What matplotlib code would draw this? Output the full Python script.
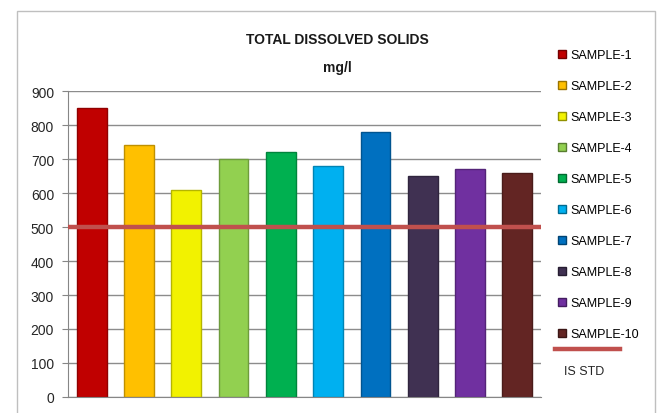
import matplotlib

matplotlib.use("Agg")
import matplotlib.pyplot as plt
from matplotlib.colors import to_rgb
from matplotlib.lines import Line2D
from matplotlib.patches import Rectangle

plt.rcParams["font.family"] = ["Liberation Sans Narrow", "Liberation Sans", "DejaVu Sans"]

# data
samples = [f"SAMPLE-{i}" for i in range(1, 11)]
tds_values = [850, 740, 610, 700, 720, 680, 780, 650, 670, 660]
is_std = 500
y_ticks = [0, 100, 200, 300, 400, 500, 600, 700, 800, 900]

bar_colors = ["#c00000", "#ffc000", "#f2f200", "#92d050", "#00b050",
              "#00b0f0", "#0070c0", "#403152", "#7030a0", "#632523"]


def darker(c, f=0.75):
    r, g, b = to_rgb(c)
    return (r * f, g * f, b * f)


fig = plt.figure(figsize=(6.61, 4.14), dpi=100)
fig.patches.append(Rectangle((17 / 661, -0.01), (655 - 17) / 661, (414 - 12) / 414 + 0.01,
                             transform=fig.transFigure, facecolor="white",
                             edgecolor="#bfbfbf", linewidth=1.0, zorder=-5))

ax = fig.add_axes([68 / 661, 16 / 414, 473 / 661, 306 / 414], zorder=2)
ax.patch.set_alpha(0)
x = range(len(samples))
bars = ax.bar(x, tds_values, width=0.63, color=bar_colors,
              edgecolor=[darker(c) for c in bar_colors], linewidth=1.0, zorder=2)
ax.axhline(is_std, color="#c0504d", linewidth=3.2, zorder=3)

ax.set_xlim(-0.5, len(samples) - 0.5)
ax.set_ylim(0, 900)
ax.set_yticks(y_ticks)
ax.set_xticks([])
ax.tick_params(axis="y", labelsize=10, length=4, color="#868686", pad=6,
               labelcolor="#262626")
ax.yaxis.grid(True, color="#8c8c8c", linewidth=1.0, zorder=1)
ax.set_axisbelow(True)
for side in ("top", "right"):
    ax.spines[side].set_visible(False)
for side in ("left", "bottom"):
    ax.spines[side].set_color("#868686")

fig.text(337 / 661, 1 - 40 / 414, "TOTAL DISSOLVED SOLIDS", ha="center", va="center",
         fontsize=10, fontweight="bold", color="#1a1a1a")
fig.text(337 / 661, 1 - 68 / 414, "mg/l", ha="center", va="center",
         fontsize=10, fontweight="bold", color="#1a1a1a")

handles = [Line2D([], [], linestyle="none", marker="s", markersize=6,
                  markerfacecolor=c, markeredgecolor=darker(c, 0.6)) for c in bar_colors]
leg = fig.legend(handles, samples, loc="upper left", bbox_to_anchor=(552 / 661, 1 - 45 / 414),
                 frameon=False, fontsize=9, handlelength=0.8, handletextpad=0.3,
                 labelspacing=1.52, borderaxespad=0)

fig.add_artist(Line2D([555 / 661, 620 / 661], [1 - 350 / 414, 1 - 350 / 414],
                      transform=fig.transFigure, color="#c0504d", linewidth=3.2))
fig.text(564 / 661, 1 - 372 / 414, "IS STD", ha="left", va="center", fontsize=9,
         color="#262626")

fig.savefig("out.png", dpi=100)
